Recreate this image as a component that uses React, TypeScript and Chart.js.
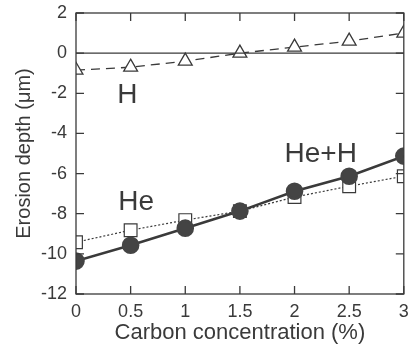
import React, { useEffect, useRef } from "react";
import { Chart, registerables } from "chart.js";
Chart.register(...registerables);

const xValues = [0, 0.5, 1, 1.5, 2, 2.5, 3];
const hValues = [-0.85, -0.7, -0.4, 0.0, 0.3, 0.6, 1.0];
const heValues = [-9.42, -8.82, -8.32, -7.87, -7.17, -6.63, -6.13];
const heHValues = [-10.36, -9.57, -8.72, -7.87, -6.88, -6.13, -5.13];
const labels = [
  { text: "H", x: 0.47, y: -2.1 },
  { text: "He", x: 0.55, y: -7.42 },
  { text: "He+H", x: 2.24, y: -5.03 },
];

const FONT = "'Liberation Sans', Arial, sans-serif";
const INK = "#3a3a3a";

const framePlugin = {
  id: "frame",
  afterDatasetsDraw(chart: any) {
    const { ctx, chartArea: a, scales } = chart;
    const xs = scales.x, ys = scales.y;
    ctx.save();
    ctx.strokeStyle = INK;
    ctx.lineWidth = 1.3;
    ctx.strokeRect(a.left, a.top, a.right - a.left, a.bottom - a.top);
    const y0 = ys.getPixelForValue(0);
    ctx.beginPath();
    ctx.moveTo(a.left, y0);
    ctx.lineTo(a.right, y0);
    ctx.stroke();
    const L = 8;
    ctx.beginPath();
    for (const v of xValues) {
      const px = xs.getPixelForValue(v);
      ctx.moveTo(px, a.bottom); ctx.lineTo(px, a.bottom - L);
      ctx.moveTo(px, a.top); ctx.lineTo(px, a.top + L);
    }
    for (let v = -12; v <= 2; v += 2) {
      const py = ys.getPixelForValue(v);
      ctx.moveTo(a.left, py); ctx.lineTo(a.left + L, py);
      ctx.moveTo(a.right, py); ctx.lineTo(a.right - L, py);
    }
    ctx.stroke();
    ctx.fillStyle = INK;
    ctx.font = `28px ${FONT}`;
    ctx.textAlign = "center";
    ctx.textBaseline = "middle";
    for (const l of labels) {
      ctx.fillText(l.text, xs.getPixelForValue(l.x), ys.getPixelForValue(l.y));
    }
    ctx.restore();
  },
};

function toPts(ys: number[]) {
  return xValues.map((x, i) => ({ x, y: ys[i] }));
}

export default function App() {
  const ref = useRef<HTMLCanvasElement>(null);
  useEffect(() => {
    document.body.style.margin = "0";
    const chart = new Chart(ref.current!, {
      type: "scatter",
      data: {
        datasets: [
          {
            data: toPts(heHValues),
            showLine: true,
            borderColor: INK,
            borderWidth: 2.6,
            pointStyle: "circle",
            pointRadius: 7.5,
            pointBackgroundColor: "#444444",
            pointBorderColor: "#444444",
          },
          {
            data: toPts(heValues),
            showLine: true,
            borderColor: INK,
            borderWidth: 1.2,
            borderDash: [2, 2],
            pointStyle: "rect",
            pointRadius: 9,
            pointBackgroundColor: "#ffffff",
            pointBorderColor: INK,
            pointBorderWidth: 1.2,
          },
          {
            data: toPts(hValues),
            showLine: true,
            borderColor: INK,
            borderWidth: 1.3,
            borderDash: [9, 6],
            pointStyle: "triangle",
            pointRadius: 8,
            pointBackgroundColor: "#ffffff",
            pointBorderColor: INK,
            pointBorderWidth: 1.3,
          },
        ],
      },
      options: {
        responsive: false,
        animation: false,
        layout: { padding: { top: 13, right: 8, left: 0, bottom: 0 } },
        plugins: { legend: { display: false }, tooltip: { enabled: false } },
        scales: {
          x: {
            type: "linear",
            min: 0,
            max: 3,
            ticks: {
              stepSize: 0.5,
              color: INK,
              font: { family: FONT, size: 18 },
              padding: 7,
              callback: (v: any) => String(Number(v)),
            },
            grid: { display: false, drawTicks: false, tickLength: 0 },
            border: { display: false },
            title: { display: true, text: "Carbon concentration (%)", color: INK, font: { family: FONT, size: 22 }, padding: { top: 0, bottom: 0 } },
            afterFit(s: any) { s.height = 52; s.paddingLeft = 0; s.paddingRight = 0; },
          },
          y: {
            type: "linear",
            min: -12,
            max: 2,
            ticks: { stepSize: 2, color: INK, font: { family: FONT, size: 18 }, padding: 9 },
            grid: { display: false, drawTicks: false, tickLength: 0 },
            border: { display: false },
            title: { display: true, text: "Erosion depth (μm)", color: INK, font: { family: FONT, size: 20 }, padding: { top: 12, bottom: 0 } },
            afterFit(s: any) { s.width = 76; s.paddingTop = 0; s.paddingBottom = 0; },
          },
        },
      },
      plugins: [framePlugin],
    });
    return () => chart.destroy();
  }, []);
  return (
    <div style={{ position: "absolute", left: 0, top: 0, width: 414, height: 346, background: "#fff" }}>
      <canvas ref={ref} width={414} height={346} />
    </div>
  );
}
